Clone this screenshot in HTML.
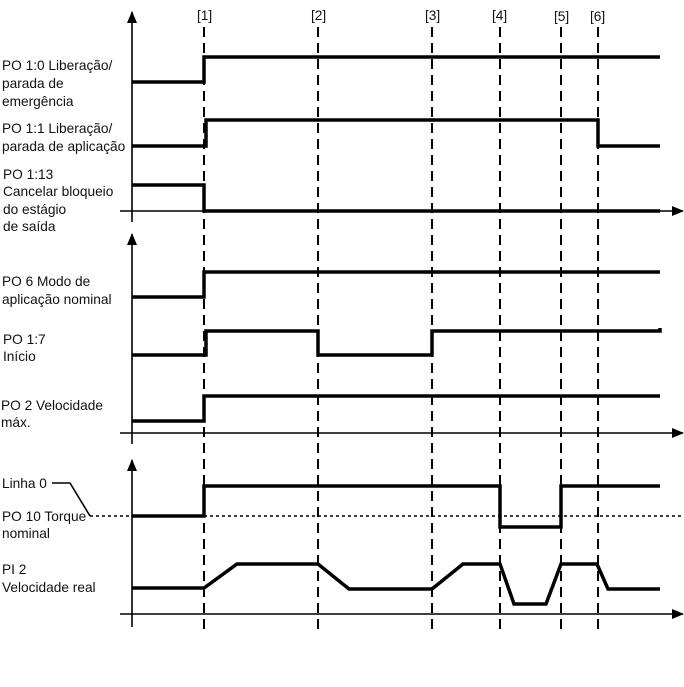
<!DOCTYPE html>
<html><head><meta charset="utf-8"><style>
html,body{margin:0;padding:0;background:#fff;}
svg{display:block;}
text{font-family:"Liberation Sans",Arial,sans-serif;font-size:13.7px;fill:#111;}
</style></head><body>
<svg width="684" height="687" viewBox="0 0 684 687" xmlns="http://www.w3.org/2000/svg">
<defs><marker id="a" markerWidth="12" markerHeight="10" refX="11" refY="5" orient="auto" markerUnits="userSpaceOnUse"><path d="M0,0 L12,5 L0,10 Z" fill="#000"/></marker></defs>
<g stroke="#000" stroke-width="2" stroke-dasharray="10,6" fill="none">
<line x1="204" y1="27" x2="204" y2="632"/>
<line x1="318" y1="27" x2="318" y2="632"/>
<line x1="432" y1="27" x2="432" y2="632"/>
<line x1="500" y1="27" x2="500" y2="632"/>
<line x1="561" y1="27" x2="561" y2="632"/>
<line x1="598" y1="27" x2="598" y2="632"/>
</g>
<g>
<text x="197" y="20">[1]</text><text x="311" y="20">[2]</text><text x="425" y="20">[3]</text>
<text x="492" y="20">[4]</text><text x="554" y="21">[5]</text><text x="590" y="21">[6]</text>
</g>
<g stroke="#000" stroke-width="1.6" fill="none">
<line x1="132" y1="222" x2="132" y2="12" marker-end="url(#a)"/>
<line x1="120" y1="211" x2="683" y2="211" marker-end="url(#a)"/>
<line x1="132" y1="444" x2="132" y2="234" marker-end="url(#a)"/>
<line x1="120" y1="433" x2="683" y2="433" marker-end="url(#a)"/>
<line x1="132" y1="627" x2="132" y2="460" marker-end="url(#a)"/>
<line x1="120" y1="614" x2="683" y2="614" marker-end="url(#a)"/>
<polyline points="52,483 70,483 90,516"/>
</g>
<line x1="90" y1="516" x2="684" y2="516" stroke="#000" stroke-width="1.6" stroke-dasharray="3,3"/>
<g stroke="#000" stroke-width="3.5" fill="none" stroke-linejoin="miter">
<polyline points="132,82 204,82 204,57 660,57"/>
<polyline points="132,146 206,146 206,120 598,120 598,146 660,146"/>
<polyline points="132,185 204,185 204,211 660,211"/>
<polyline points="132,297 204,297 204,272 660,272"/>
<polyline points="132,355 206,355 206,331 318,331 318,355 432,355 432,331 660,331 660,328"/>
<polyline points="132,421 204,421 204,396 660,396"/>
<polyline points="132,516 204,516 204,486 500,486 500,527 561,527 561,486 660,486"/>
<polyline points="132,588 204,588 237,564 318,564 349,589 432,589 463,564 500,564 514,604 546,604 561,564 597,564 608,589 660,589"/>
</g>
<text x="2" y="70">PO 1:0 Liberação/</text>
<text x="2" y="88">parada de</text>
<text x="2" y="106">emergência</text>
<text x="2" y="133">PO 1:1 Liberação/</text>
<text x="2" y="151">parada de aplicação</text>
<text x="3" y="179">PO 1:13</text>
<text x="3" y="196">Cancelar bloqueio</text>
<text x="3" y="214">do estágio</text>
<text x="3" y="231">de saída</text>
<text x="2" y="286">PO 6 Modo de</text>
<text x="2" y="304">aplicação nominal</text>
<text x="3" y="344">PO 1:7</text>
<text x="3" y="361">Início</text>
<text x="1" y="410">PO 2 Velocidade</text>
<text x="1" y="427">máx.</text>
<text x="2" y="488">Linha 0</text>
<text x="2" y="521">PO 10 Torque</text>
<text x="2" y="538">nominal</text>
<text x="2" y="574">PI 2</text>
<text x="2" y="592">Velocidade real</text>
</svg>
</body></html>
